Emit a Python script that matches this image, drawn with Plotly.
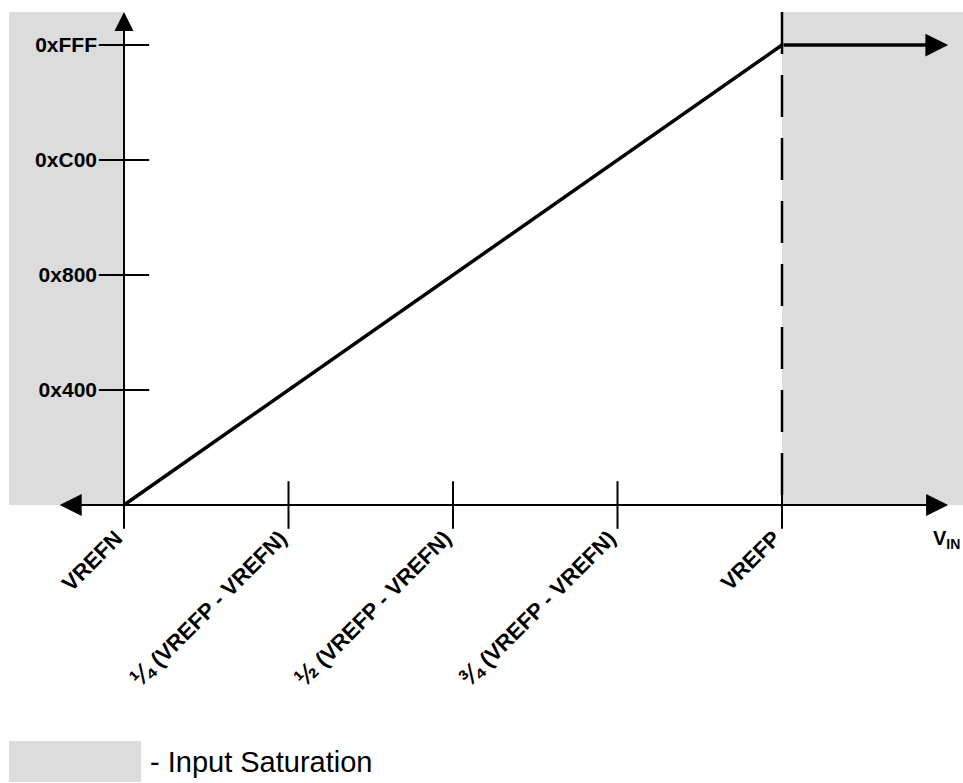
# -*- coding: utf-8 -*-
#imports
import plotly.graph_objs as go

#dados
#----------------------------------------------------------------------------------
vin_pos = [0, 1, 2, 3, 4]
vin_labels = ['VREFN',
              "<span style='font-size:26px'>¼</span> (VREFP - VREFN)",
              "<span style='font-size:26px'>½</span> (VREFP - VREFN)",
              "<span style='font-size:26px'>¾</span> (VREFP - VREFN)",
              'VREFP']
code_pos = [0x400, 0x800, 0xC00, 0xFFF]
code_labels = ['0x400', '0x800', '0xC00', '0xFFF']
# curva de transferencia (VIN em quartos de VREFP-VREFN, codigo de saida)
curve_x = [0, 4]
curve_y = [0, 0xFFF]
sat_x = [4, 5.01]         # saturacao depois de VREFP
vrefn = 0
vrefp = 4
code_max = 0xFFF

#style
gray = '#dcdcdc'
fonte = 'Liberation Sans'
x_range = [-0.7538, 5.1003]
y_range = [-2475.0, 4495.9]
y_top = 4389            # topo das regioes cinza / eixo y
x_left = -0.40          # ponta esquerda do eixo x
y_low = -150            # eixo y passa um pouco abaixo do eixo x
#----------------------------------------------------------------------------------

trace_curve = go.Scatter(x=curve_x, y=curve_y, mode='lines',
                         line=dict(color='black', width=3.5), hoverinfo='skip')
trace_dash = go.Scatter(x=[vrefp, vrefp], y=[y_top, 0], mode='lines',
                        line=dict(color='black', width=2.5, dash='42px,21px'),
                        hoverinfo='skip')
trace_xticks = go.Scatter(x=vin_pos, y=[0] * len(vin_pos), mode='markers',
                          marker=dict(symbol='line-ns', size=34,
                                      line=dict(color='black', width=2)),
                          hoverinfo='skip')
trace_yticks = go.Scatter(x=[0] * len(code_pos), y=code_pos, mode='markers',
                          marker=dict(symbol='line-ew', size=36,
                                      line=dict(color='black', width=2)),
                          hoverinfo='skip')

data = [trace_dash, trace_curve, trace_xticks, trace_yticks]

layout = go.Layout(
    width=963, height=783,
    margin=dict(l=0, r=0, t=0, b=0),
    paper_bgcolor='white', plot_bgcolor='white',
    showlegend=False, hovermode=False,
    xaxis=dict(range=x_range, domain=[0, 1], anchor='free', position=(783 - 505) / 783,
               tickvals=vin_pos, ticktext=vin_labels, tickangle=-45,
               tickfont=dict(family=fonte, size=22, color='black', weight='bold'),
               ticks='', ticklabelstandoff=15, ticklabelshift=-8,
               showgrid=False, zeroline=False, showline=False, automargin=False),
    yaxis=dict(range=y_range, domain=[0, 1], anchor='free', position=124 / 963,
               tickvals=code_pos, ticktext=code_labels,
               tickfont=dict(family=fonte, size=21, color='black', weight='bold'),
               ticks='', ticklabelstandoff=27,
               showgrid=False, zeroline=False, showline=False, automargin=False),
    shapes=[
        # regioes de saturacao
        dict(type='rect', xref='x', yref='y', x0=-0.699, x1=vrefn, y0=0, y1=y_top,
             fillcolor=gray, line=dict(width=0), layer='below'),
        dict(type='rect', xref='x', yref='y', x0=vrefp, x1=x_range[1], y0=0, y1=y_top,
             fillcolor=gray, line=dict(width=0), layer='below'),
        # caixa da legenda
        dict(type='rect', xref='paper', yref='paper', x0=9 / 963, x1=141 / 963,
             y0=1 / 783, y1=42 / 783, fillcolor=gray, line=dict(width=0)),
    ],
    annotations=[
        # eixo x com setas nas duas pontas
        dict(x=sat_x[1], y=0, ax=x_left, ay=0, xref='x', yref='y', axref='x', ayref='y',
             text='', showarrow=True, arrowhead=2, arrowside='end+start',
             startarrowhead=2, arrowwidth=2, arrowsize=2.2, startarrowsize=2.2,
             arrowcolor='black', standoff=0, startstandoff=0),
        # eixo y
        dict(x=0, y=y_top, ax=0, ay=y_low, xref='x', yref='y', axref='x', ayref='y',
             text='', showarrow=True, arrowhead=2, arrowwidth=2, arrowsize=1.9,
             arrowcolor='black', standoff=0),
        # saturacao em 0xFFF
        dict(x=sat_x[1], y=code_max, ax=sat_x[0], ay=code_max, xref='x', yref='y',
             axref='x', ayref='y', text='', showarrow=True, arrowhead=2,
             arrowwidth=3.5, arrowsize=1.3, arrowcolor='black', standoff=0),
        dict(x=5.0, y=-310, xref='x', yref='y', text='V<sub>IN</sub>', showarrow=False,
             font=dict(family=fonte, size=20, color='black', weight='bold')),
        dict(x=148 / 963, y=21 / 783, xref='paper', yref='paper', xanchor='left',
             yanchor='middle', text='- Input Saturation', showarrow=False,
             font=dict(family=fonte, size=29, color='black')),
    ],
)

fig = go.Figure(data=data, layout=layout)
# tira a margem do body pra figura comecar no canto
fig.write_html('out.html', config={'displayModeBar': False},
               post_script="document.body.style.margin='0';")
